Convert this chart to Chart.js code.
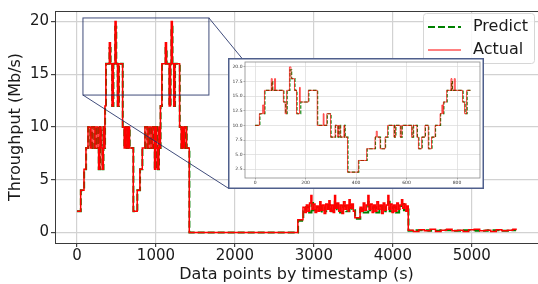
<!DOCTYPE html>
<html><head><meta charset="utf-8">
<script src="https://cdn.jsdelivr.net/npm/chart.js@4"></script>
<style>
html,body{margin:0;padding:0;background:#fff;}
#wrap{position:relative;width:538px;height:284px;overflow:hidden;}
#main{position:absolute;left:0;top:0;}
#inset{position:absolute;left:228px;top:58px;}
</style></head><body>
<div id="wrap"><canvas id="main" width="538" height="284"></canvas><canvas id="inset" width="256" height="131"></canvas></div>
<script>
// ---- data ----
const xTicksMain = [0,1000,2000,3000,4000,5000];
const yTicksMain = [0,5,10,15,20];
const xTicksInset = [0,200,400,600,800];
const yTicksInset = [2.5,5,7.5,10,12.5,15,17.5,20];
const seriesNames = ["Predict","Actual"];

const actualMain = [[0,2],[47,4],[89,6],[114,8],[140,10],[168,8],[190,10],[218,8],[240,10],[266,8],[274,6],[290,10],[306,8],[320,6],[334,10],[344,8],[354,12],[366,16],[410,18],[424,16],[444,12],[460,16],[482,20],[496,16],[514,12],[530,16],[578,10],[598,8],[614,10],[634,8],[650,10],[666,8],[713,2],[763,4],[797,6],[827,8],[861,10],[889,8],[911,10],[937,8],[959,10],[983,6],[999,10],[1011,8],[1023,6],[1037,10],[1047,8],[1057,12],[1075,16],[1120,18],[1134,16],[1168,12],[1184,16],[1194,20],[1208,16],[1226,12],[1240,16],[1300,10],[1320,8],[1334,10],[1352,8],[1364,10],[1388,8],[1422,0],[2797,1.2],[2862,2.4],[2885,1.9],[2905,2.6],[2925,2.0],[2945,2.8],[2962,3.5],[2975,2.2],[2995,2.7],[3015,1.9],[3035,2.5],[3055,2.0],[3075,2.9],[3090,2.1],[3110,2.6],[3130,1.8],[3150,2.7],[3170,2.2],[3190,3.0],[3205,2.0],[3225,2.6],[3245,1.9],[3262,3.5],[3275,2.3],[3295,2.8],[3315,2.0],[3335,2.6],[3355,1.8],[3375,2.9],[3395,2.2],[3415,2.6],[3435,2.0],[3445,3.1],[3460,2.3],[3480,2.7],[3500,2.0],[3519,1.4],[3585,2.4],[3605,2.0],[3625,2.8],[3645,2.1],[3665,2.6],[3684,3.5],[3698,2.2],[3718,2.7],[3738,1.9],[3758,2.6],[3778,2.0],[3798,2.9],[3818,2.2],[3838,2.6],[3858,1.8],[3878,2.8],[3898,2.1],[3918,2.6],[3937,3.5],[3950,2.2],[3970,2.7],[3990,1.9],[4010,2.6],[4030,2.0],[4050,2.8],[4070,2.2],[4090,2.6],[4110,3.1],[4125,2.3],[4145,2.7],[4165,2.0],[4180,2.5],[4195,0.2],[4260,0.1],[4330,0.25],[4400,0.15],[4470,0.3],[4540,0.1],[4610,0.2],[4680,0.3],[4750,0.15],[4820,0.2],[4890,0.1],[4960,0.25],[5030,0.3],[5100,0.15],[5170,0.2],[5240,0.1],[5310,0.25],[5380,0.15],[5450,0.2],[5520,0.3],[5560,0.2]];

const predictMain = [[0,2],[49,4],[91,6],[116,8],[142,10],[170,8],[192,10],[220,8],[242,10],[268,8],[276,6],[292,10],[308,8],[322,6],[336,10],[346,8],[356,12],[368,16],[412,17.5],[426,16],[446,12],[462,16],[484,19.5],[498,16],[516,12],[532,16],[580,10],[600,8],[616,10],[636,8],[652,10],[668,8],[715,2],[765,4],[799,6],[829,8],[863,10],[891,8],[913,10],[939,8],[961,10],[985,6],[1001,10],[1013,8],[1025,6],[1039,10],[1049,8],[1059,12],[1077,16],[1122,17.5],[1136,16],[1170,12],[1186,16],[1196,19.5],[1210,16],[1228,12],[1242,16],[1302,10],[1322,8],[1336,10],[1354,8],[1366,10],[1390,8],[1424,0],[2800,1.1],[2866,2.0],[2900,2.4],[2940,1.9],[2970,2.8],[2990,2.1],[3030,2.4],[3070,1.9],[3100,2.5],[3140,2.0],[3190,2.6],[3220,2.0],[3265,2.9],[3290,2.2],[3330,1.9],[3370,2.5],[3410,2.0],[3450,2.6],[3480,2.1],[3522,1.3],[3588,2.2],[3630,1.9],[3688,2.9],[3710,2.1],[3750,2.4],[3790,1.9],[3830,2.5],[3870,2.0],[3910,2.4],[3940,2.9],[3960,2.0],[4000,2.4],[4040,1.9],[4080,2.5],[4115,2.7],[4140,2.1],[4175,2.3],[4198,0.15],[4300,0.2],[4450,0.15],[4600,0.2],[4750,0.15],[4900,0.2],[5050,0.15],[5200,0.2],[5350,0.15],[5500,0.2],[5560,0.2]];

const actualInset = [[0,10],[17,12],[30,13.5],[34,12],[37,16],[64,18],[68,16],[77,18],[81,16],[112,14],[119,12],[125,16],[136,20],[142,18],[156,16],[164,12],[176,16.5],[179,14],[211,16],[246,10],[270,12],[273,10],[284,12],[299,8],[317,10],[327,8],[331,10],[337,8],[352,10],[355,8],[366,2],[409,4],[442,6],[475,8],[480,9],[484,8],[495,6],[515,8],[525,10],[550,8],[556,10],[575,8],[581,10],[620,8],[626,10],[641,8],[647,6],[660,8],[673,10],[686,6],[699,8],[713,10],[733,12],[740,13.5],[743,12],[746,14],[759,16],[776,18],[780,16],[789,18],[793,16],[822,14],[830,12],[838,16],[853,16]];

const predictInset = [[0,10],[19,12],[39,16],[66,17.5],[70,16],[114,14],[121,12],[127,16],[138,19.5],[145,18],[158,16],[166,12],[181,14],[213,16],[248,10],[286,12],[301,8],[319,10],[329,8],[333,10],[339,8],[354,10],[357,8],[368,2],[411,4],[444,6],[477,8],[497,6],[517,8],[527,10],[552,8],[558,10],[577,8],[583,10],[622,8],[628,10],[643,8],[649,6],[662,8],[675,10],[688,6],[701,8],[715,10],[735,12],[748,14],[761,16],[778,17.5],[782,16],[824,14],[832,12],[840,16],[853,16]];

const zoomBox = {x0:76, x1:1671, y0:13.03, y1:20.34};

// ---- drawing ----
const toXY = a => a.map(p => ({x:p[0], y:p[1]}));
const FONT = "'DejaVu Sans', sans-serif";
const GREEN = '#008000', RED = '#ff0000';

const mainPlugin = {
  id:'mainDeco',
  afterDatasetsDraw(chart){
    const {ctx, chartArea:a, scales:{x,y}} = chart;
    ctx.save();
    ctx.strokeStyle = '#3a3a3a'; ctx.lineWidth = 1;
    ctx.strokeRect(Math.round(a.left)+0.5, Math.round(a.top)+0.5, a.right-a.left, Math.round(a.bottom)-Math.round(a.top));
    const rx0 = x.getPixelForValue(zoomBox.x0), rx1 = x.getPixelForValue(zoomBox.x1);
    const ry0 = y.getPixelForValue(zoomBox.y1), ry1 = y.getPixelForValue(zoomBox.y0);
    ctx.strokeStyle = 'rgba(30,45,100,0.85)'; ctx.lineWidth = 1;
    ctx.strokeRect(rx0, ry0, rx1-rx0, ry1-ry0);
    ctx.beginPath();
    ctx.moveTo(rx1, ry0); ctx.lineTo(245, 62);
    ctx.moveTo(rx0, ry1); ctx.lineTo(228, 188);
    ctx.stroke();
    ctx.restore();
  },
  afterDraw(chart){
    const ctx = chart.ctx;
    ctx.save();
    const bx=423.5, by=13.5, bw=111, bh=50, r=3;
    ctx.fillStyle='rgba(255,255,255,0.85)';
    ctx.strokeStyle='#d6d6d6'; ctx.lineWidth=1;
    ctx.beginPath();
    ctx.moveTo(bx+r,by); ctx.lineTo(bx+bw-r,by); ctx.arcTo(bx+bw,by,bx+bw,by+r,r);
    ctx.lineTo(bx+bw,by+bh-r); ctx.arcTo(bx+bw,by+bh,bx+bw-r,by+bh,r);
    ctx.lineTo(bx+r,by+bh); ctx.arcTo(bx,by+bh,bx,by+bh-r,r);
    ctx.lineTo(bx,by+r); ctx.arcTo(bx,by,bx+r,by,r); ctx.closePath();
    ctx.fill(); ctx.stroke();
    ctx.lineWidth=2; ctx.strokeStyle=GREEN; ctx.setLineDash([7,3]);
    ctx.beginPath(); ctx.moveTo(428,27); ctx.lineTo(461,27); ctx.stroke();
    ctx.setLineDash([]); ctx.lineWidth=1; ctx.strokeStyle=RED;
    ctx.beginPath(); ctx.moveTo(428,50); ctx.lineTo(461,50); ctx.stroke();
    ctx.fillStyle='#1a1a1a'; ctx.font="16px "+FONT; ctx.textBaseline='middle'; ctx.textAlign='left';
    ctx.fillText(seriesNames[0], 473, 27);
    ctx.fillText(seriesNames[1], 473, 50);
    ctx.restore();
  }
};

new Chart(document.getElementById('main'), {
  type:'line',
  data:{datasets:[
    {label:seriesNames[0], data:toXY(predictMain), borderColor:GREEN, borderWidth:2, borderDash:[7,3], stepped:true, pointRadius:0, order:2},
    {label:seriesNames[1], data:toXY(actualMain), borderColor:RED, borderWidth:1.5, stepped:true, pointRadius:0, order:1}
  ]},
  options:{
    responsive:false, animation:false, devicePixelRatio:1,
    layout:{padding:{top:5, right:0, left:0, bottom:0}},
    plugins:{legend:{display:false}, tooltip:{enabled:false}},
    scales:{
      x:{type:'linear', min:-278, max:5838,
        afterBuildTicks(s){ s.ticks = xTicksMain.map(v=>({value:v})); },
        afterFit(s){ s.height = 41; },
        grid:{color:'#d2d2d2', lineWidth:1.2, tickLength:4, tickColor:'#444'},
        border:{display:false},
        ticks:{font:{family:FONT, size:15}, color:'#1a1a1a', padding:0, maxRotation:0, callback:v=>String(v)},
        title:{display:true, text:'Data points by timestamp (s)', font:{family:FONT, size:16}, color:'#1a1a1a', padding:{top:0,bottom:0}}
      },
      y:{type:'linear', min:-1, max:21,
        afterBuildTicks(s){ s.ticks = yTicksMain.map(v=>({value:v})); },
        afterFit(s){ s.width = 55; },
        grid:{color:'#d2d2d2', lineWidth:1.2, tickLength:4, tickColor:'#444'},
        border:{display:false},
        ticks:{font:{family:FONT, size:15}, color:'#1a1a1a', padding:2, callback:v=>String(v)},
        title:{display:true, text:'Throughput (Mb/s)', font:{family:FONT, size:16}, color:'#1a1a1a', padding:{top:6.4,bottom:0}}
      }
    }
  },
  plugins:[mainPlugin]
});

const insetPlugin = {
  id:'insetDeco',
  beforeDraw(chart){
    const ctx=chart.ctx; ctx.save(); ctx.fillStyle='#fff'; ctx.fillRect(0,0,chart.width,chart.height); ctx.restore();
  },
  afterDatasetsDraw(chart){
    const {ctx, chartArea:a} = chart;
    ctx.save();
    ctx.strokeStyle='#8a8a8a'; ctx.lineWidth=0.8;
    ctx.strokeRect(a.left, a.top, a.right-a.left, a.bottom-a.top);
    ctx.restore();
  },
  afterDraw(chart){
    const ctx=chart.ctx; ctx.save();
    ctx.strokeStyle='#4f5f8c'; ctx.lineWidth=1.5;
    ctx.strokeRect(0.75,0.75,chart.width-1.5,chart.height-1.5);
    ctx.restore();
  }
};

new Chart(document.getElementById('inset'), {
  type:'line',
  data:{datasets:[
    {label:seriesNames[0], data:toXY(predictInset), borderColor:GREEN, borderWidth:1.1, borderDash:[3.5,1.6], stepped:true, pointRadius:0, order:2},
    {label:seriesNames[1], data:toXY(actualInset), borderColor:RED, borderWidth:0.7, stepped:true, pointRadius:0, order:1}
  ]},
  options:{
    responsive:false, animation:false, devicePixelRatio:1,
    layout:{padding:{top:4, right:4, left:0, bottom:1}},
    plugins:{legend:{display:false}, tooltip:{enabled:false}},
    scales:{
      x:{type:'linear', min:-40, max:891,
        afterBuildTicks(s){ s.ticks = xTicksInset.map(v=>({value:v})); },
        afterFit(s){ s.height = 10; },
        grid:{color:'#dadada', lineWidth:0.7, tickLength:1.5, tickColor:'#888'},
        border:{display:false},
        ticks:{font:{family:FONT, size:4.5}, color:'#333', padding:1, maxRotation:0, callback:v=>String(v)},
      },
      y:{type:'linear', min:1.0, max:20.85,
        afterBuildTicks(s){ s.ticks = yTicksInset.map(v=>({value:v})); },
        afterFit(s){ s.width = 17; },
        grid:{color:'#dadada', lineWidth:0.7, tickLength:1.5, tickColor:'#888'},
        border:{display:false},
        ticks:{font:{family:FONT, size:4.5}, color:'#333', padding:1, callback:v=>v.toFixed(1)}
      }
    }
  },
  plugins:[insetPlugin]
});
</script></body></html>
